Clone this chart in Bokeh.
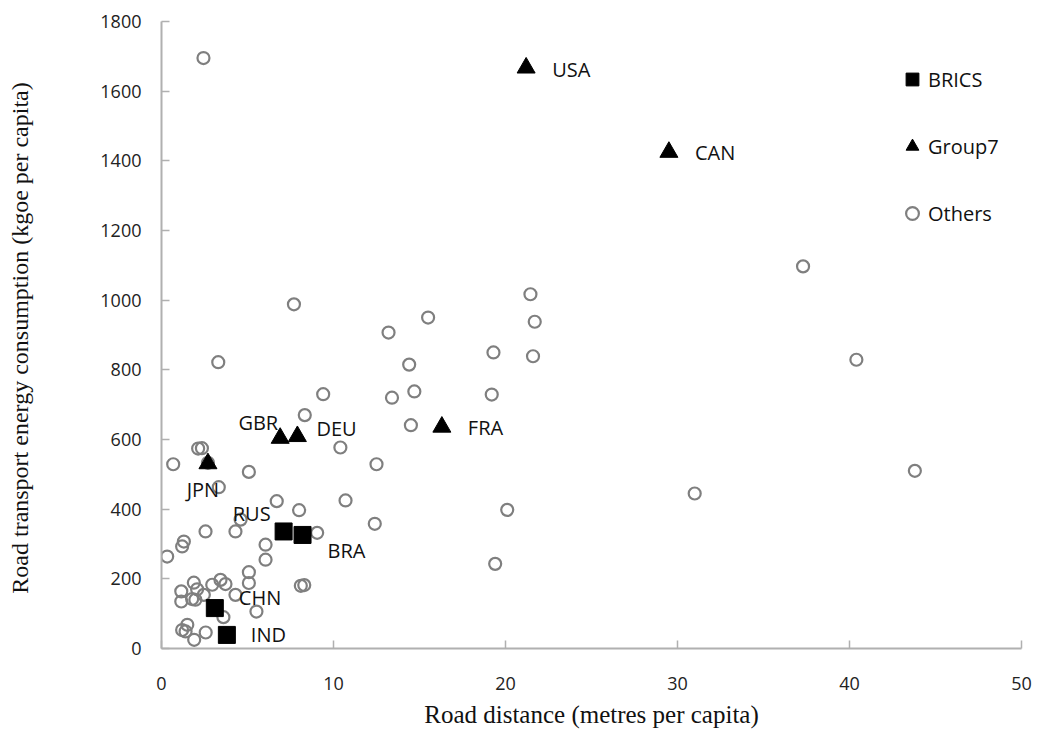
from bokeh.plotting import figure
from bokeh.models import ColumnDataSource, Legend, LegendItem, Range1d, FixedTicker
from bokeh.core.properties import value
from bokeh.embed import file_html
from bokeh.resources import INLINE

# ---- data ----
brics_names = ["CHN", "IND", "RUS", "BRA"]
brics_x = [3.1, 3.8, 7.1, 8.2]
brics_y = [116, 39, 336, 326]

g7_names = ["USA", "CAN", "FRA", "GBR", "DEU", "JPN"]
g7_x = [21.2, 29.5, 16.3, 6.9, 7.9, 2.7]
g7_y = [1667, 1425, 636, 604, 609, 531]

others_x = [2.44, 37.3, 40.4, 43.8, 31.0, 21.45, 21.7, 21.6, 19.3, 19.2,
            15.5, 13.2, 14.4, 14.7, 13.4, 14.5, 10.4, 12.5, 9.4, 7.7,
            3.3, 20.1, 19.4, 8.33, 6.7, 8.0, 10.7, 12.4, 9.05, 8.1,
            8.3, 2.13, 2.35, 0.68, 2.7, 5.08, 3.33, 4.6, 4.3, 2.56,
            1.3, 1.2, 6.05, 0.33, 6.05, 5.08, 1.88, 3.43, 2.95, 3.72,
            5.08, 2.07, 1.15, 2.46, 1.78, 1.15, 1.97, 4.3, 3.1, 3.6,
            5.52, 1.2, 1.5, 1.4, 1.9, 2.57]
others_y = [1695, 1097, 829, 510, 445, 1017, 938, 839, 850, 729,
            950, 907, 815, 738, 720, 641, 577, 529, 730, 988,
            822, 398, 243, 670, 423, 397, 425, 358, 332, 180,
            182, 574, 575, 529, 533, 507, 463, 370, 336, 336,
            307, 293, 298, 264, 255, 219, 189, 197, 183, 185,
            188, 170, 164, 154, 142, 135, 140, 154, 116, 90,
            106, 53, 68, 49, 25, 46]

x_ticks = [0, 10, 20, 30, 40, 50]
y_ticks = [0, 200, 400, 600, 800, 1000, 1200, 1400, 1600, 1800]

x_title = "Road distance (metres per capita)"
y_title = "Road transport energy consumption  (kgoe per capita)"

# label offsets (style): name -> (x_off px, y_off px, align)
label_style = {
    "USA": (26, 2, "left"), "CAN": (26, 0, "left"), "FRA": (26, 1, "left"),
    "GBR": (-2, -16, "right"), "DEU": (19, -8, "left"), "JPN": (-5, 26, "center"),
    "RUS": (-13, -18, "right"), "BRA": (25, 16, "left"),
    "CHN": (24, -11, "left"), "IND": (24, 0, "left"),
}

p = figure(width=1042, height=733, output_backend="svg", toolbar_location=None,
           x_range=Range1d(0, 50), y_range=Range1d(0, 1800),
           min_border_left=161, min_border_right=21, min_border_top=21,
           min_border_bottom=85)
p.outline_line_color = None
p.xgrid.visible = False
p.ygrid.visible = False
p.background_fill_color = "white"

axis_color = "#b0b0b0"
for ax in (p.xaxis[0], p.yaxis[0]):
    ax.axis_line_color = axis_color
    ax.axis_line_width = 2
    ax.major_tick_line_color = axis_color
    ax.major_tick_line_width = 1.5
    ax.major_tick_in = 8
    ax.major_tick_out = 0
    ax.minor_tick_line_color = None
    ax.major_label_text_font = "Open Sans"
    ax.major_label_text_font_size = "18px"
    ax.major_label_text_color = "#222222"
    ax.axis_label_text_font = "Liberation Serif"
    ax.axis_label_text_font_style = "normal"
    ax.axis_label_text_color = "#111111"

p.xaxis.axis_label_text_font_size = "25px"
p.yaxis.axis_label_text_font_size = "24px"
p.xaxis.ticker = FixedTicker(ticks=x_ticks)
p.yaxis.ticker = FixedTicker(ticks=y_ticks)
p.xaxis.axis_label = x_title
p.yaxis.axis_label = y_title
p.xaxis.major_label_standoff = 28
p.yaxis.major_label_standoff = 20
p.xaxis.axis_label_standoff = 8
p.yaxis.axis_label_standoff = 64

src_o = ColumnDataSource(dict(x=others_x, y=others_y))
src_b = ColumnDataSource(dict(x=brics_x, y=brics_y, name=brics_names))
src_g = ColumnDataSource(dict(x=g7_x, y=g7_y, name=g7_names))

r_o = p.scatter("x", "y", source=src_o, marker="circle", size=12,
                fill_alpha=0, line_color="#7f7f7f", line_width=2.2)
r_b = p.scatter("x", "y", source=src_b, marker="square", size=17,
                fill_color="black", line_color="black")
r_g = p.scatter("x", "y", source=src_g, marker="triangle", size=18,
                fill_color="black", line_color="black")

# labels
for names, xs, ys in ((brics_names, brics_x, brics_y), (g7_names, g7_x, g7_y)):
    for n, xv, yv in zip(names, xs, ys):
        xo, yo, al = label_style[n]
        p.text(x=[xv], y=[yv], text=[n], x_offset=xo, y_offset=yo,
               text_align=al, text_baseline="middle",
               text_font=value("Open Sans"), text_font_size="20px",
               text_color="#111111")

legend = Legend(items=[LegendItem(label="BRICS", renderers=[r_b]),
                       LegendItem(label="Group7", renderers=[r_g]),
                       LegendItem(label="Others", renderers=[r_o])],
                location=(735, 419), orientation="vertical",
                glyph_width=32, glyph_height=32, label_height=32,
                spacing=35, padding=0, margin=0, label_standoff=0,
                label_text_font="Open Sans", label_text_font_size="20px",
                label_text_color="#111111",
                border_line_color=None, background_fill_alpha=0)
p.add_layout(legend, "center")

open("out.html", "w").write(file_html(p, INLINE))
